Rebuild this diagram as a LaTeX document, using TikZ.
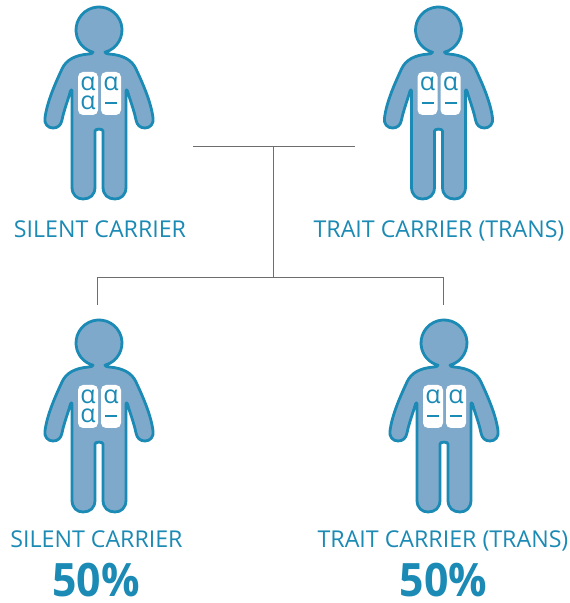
\documentclass[tikz,border=0pt]{standalone}
\usepackage{fontspec}
\setmainfont{Open Sans}
\tikzset{
  x=1pt,y=1pt,
}
\definecolor{stroke}{HTML}{1B8AB4}
\definecolor{bodyfill}{HTML}{7FA9CB}
\definecolor{linegray}{HTML}{6E6E6E}
\tikzset{
  person outline/.style={draw=stroke,fill=bodyfill,line width=2.8pt,line join=round},
  panel/.style={fill=white,rounded corners=5pt},
  allele/.style={text=stroke,inner sep=0pt,font=\fontsize{25}{25}\selectfont},
  gap/.style={draw=stroke,line width=1.7pt},
  tree/.style={draw=linegray,line width=0.8pt},
  caption/.style={text=stroke,inner sep=0pt,anchor=base,font=\fontsize{23.2}{26}\selectfont},
  percent/.style={text=stroke,inner sep=0pt,anchor=base,xscale=0.93,font=\bfseries\fontsize{46}{48}\selectfont},
  pics/person/.style n args={1}{code={
    \path[person outline] (5.95,-22.2) arc[start angle=-75,end angle=255,radius=23]
      .. controls (-7,-23.5) and (-8,-24) .. (-10,-24)
      .. controls (-24,-25) and (-33,-30) .. (-37,-39)
      .. controls (-44,-54) and (-52,-72) .. (-54,-88)
      .. controls (-55,-94) and (-51,-98) .. (-46,-98)
      .. controls (-41,-98) and (-38,-95) .. (-37,-90)
      .. controls (-35,-80) and (-31,-70) .. (-28.5,-61)
      .. controls (-28,-59.5) and (-27,-59.5) .. (-27,-61)
      -- (-27,-157)
      .. controls (-27,-165) and (-22,-169) .. (-16,-169)
      .. controls (-9,-169) and (-4,-165) .. (-4,-157)
      -- (-4,-101)
      .. controls (-4,-98.5) and (4,-98.5) .. (4,-101)
      -- (4,-157)
      .. controls (4,-165) and (9,-169) .. (16,-169)
      .. controls (22,-169) and (27,-165) .. (27,-157)
      -- (27,-61)
      .. controls (27,-59.5) and (28,-59.5) .. (28.5,-61)
      .. controls (31,-70) and (35,-80) .. (37,-90)
      .. controls (38,-95) and (41,-98) .. (46,-98)
      .. controls (51,-98) and (55,-94) .. (54,-88)
      .. controls (52,-72) and (44,-54) .. (37,-39)
      .. controls (33,-30) and (24,-25) .. (10,-24)
      .. controls (8,-24) and (7,-23.5) .. (5.95,-22.2) -- cycle;
    \fill[panel] (-21,-42) rectangle (-1,-85);
    \fill[panel] (2,-42) rectangle (22,-85);
    \node[allele] (-pa) at (-11,-54) {α};
    \node[allele] (-pc) at (12,-54) {α};
    \draw[gap] (6,-73) -- (18,-73);
    #1
  }},
}
\newcommand{\lowalpha}{\node[allele] at (-11,-73) {α};}
\newcommand{\lowdash}{\draw[gap] (-17,-73) -- (-5,-73);}
\begin{document}
\begin{tikzpicture}
\useasboundingbox (0,0) rectangle (570,603);
\fill[white] (0,0) rectangle (570,603);
\pic (p1) at (99,573) {person={\lowalpha}};
\pic (p2) at (438.5,573) {person={\lowdash}};
\pic (p3) at (99,260) {person={\lowalpha}};
\pic (p4) at (444,260) {person={\lowdash}};

\coordinate (pl) at (193,457);
\coordinate (pr) at (355,457);
\coordinate (top) at (273,457);
\coordinate (mid) at (273,326);
\coordinate (cl) at (97,326);
\coordinate (cr) at (443,326);
\coordinate (cld) at (97,298);
\coordinate (crd) at (443,298);
\draw[tree] (pl) -- (pr);
\draw[tree] (top) -- (mid);
\draw[tree] (cld) -- (cl) -- (cr) -- (crd);

\node[caption] (t1) at (100,365) {SILENT CARRIER};
\node[caption] (t2) at (439,365) {TRAIT CARRIER (TRANS)};
\node[caption] (t3) at (96.5,55) {SILENT CARRIER};
\node[caption] (t4) at (443,55) {TRAIT CARRIER (TRANS)};
\node[percent] (v1) at (96,6) {50\%};
\node[percent] (v2) at (443.5,6) {50\%};
\end{tikzpicture}
\end{document}
